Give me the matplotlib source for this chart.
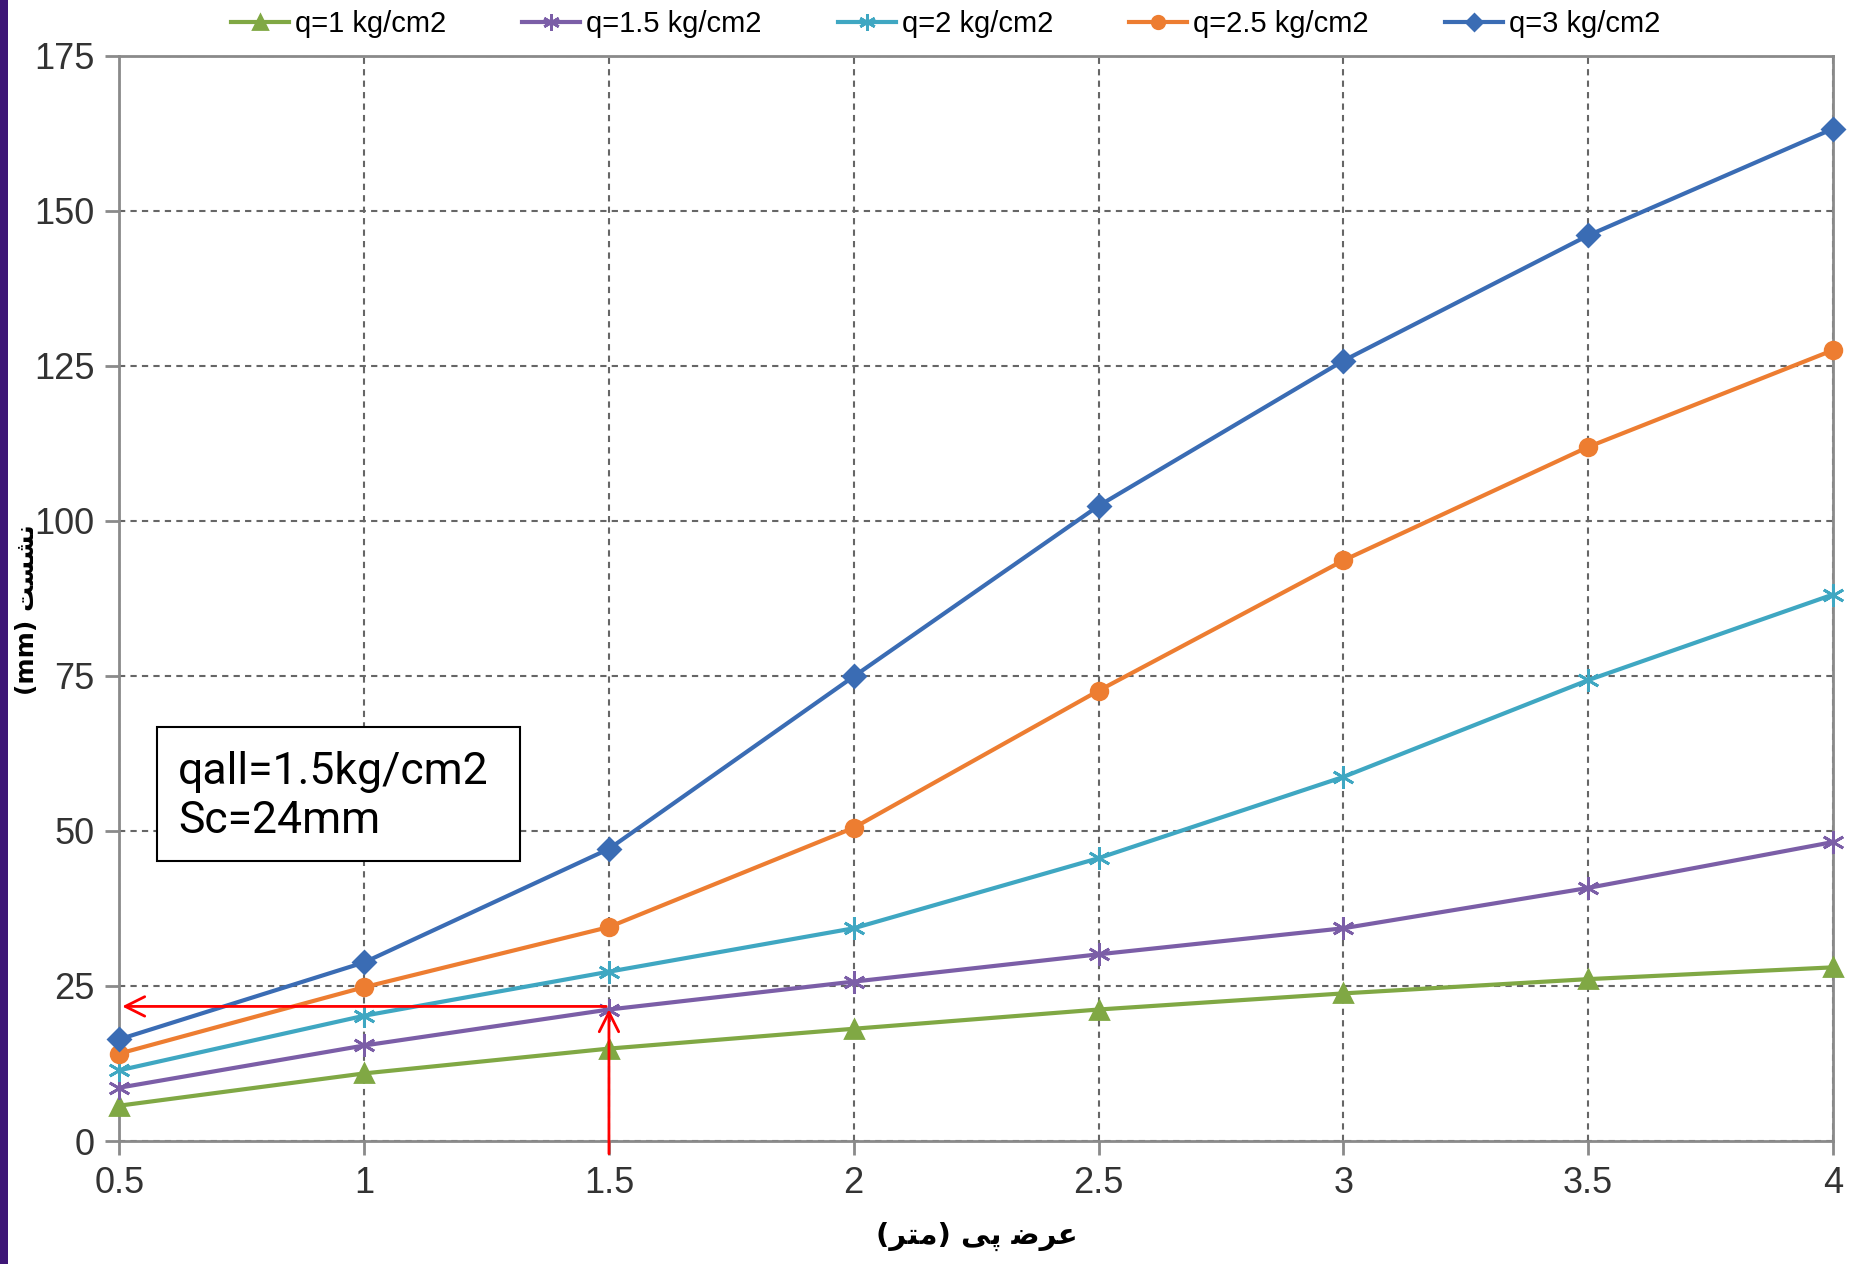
import matplotlib
matplotlib.use('Agg')
import matplotlib.pyplot as plt
from matplotlib.patches import Rectangle
import numpy as np

# footing width (m)
width = [0.5, 1, 1.5, 2, 2.5, 3, 3.5, 4]

# settlement (mm) per allowable pressure
q1 = [5.7, 10.9, 14.9, 18.1, 21.2, 23.8, 26.1, 28.0]
q15 = [8.6, 15.4, 21.2, 25.7, 30.1, 34.3, 40.8, 48.2]
q2 = [11.4, 20.2, 27.3, 34.3, 45.6, 58.7, 74.3, 88.1]
q25 = [14.1, 24.8, 34.5, 50.5, 72.6, 93.6, 111.9, 127.5]
q3 = [16.4, 28.8, 47.1, 74.9, 102.4, 125.8, 146.0, 163.2]

labels = ['q=1 kg/cm2', 'q=1.5 kg/cm2', 'q=2 kg/cm2', 'q=2.5 kg/cm2', 'q=3 kg/cm2']
colors = ['#80a844', '#7b5ea7', '#3fa7c2', '#ed7d31', '#3a6cb4']
markers = ['^', (6, 2, 0), (6, 2, 0), 'o', 'D']
msizes = [13, 16, 16, 12, 11]

# read-off point for qall = 1.5
x_read = 1.5
y_read = 21.7

# persian labels, pre-shaped (presentation forms, visual order)
xlabel_fa = '(\uFEAE\uFE98\uFEE3) \uFBFD\uFB58 \uFEBF\uFEAE\uFECB'
ylabel_fa = '(mm) \uFE96\uFEB4\uFEB8\uFEE7'

plt.rcParams['font.family'] = ['Liberation Sans', 'DejaVu Sans']

fig = plt.figure(figsize=(18.54, 12.64), dpi=100)
ax = fig.add_axes([0.0644, 0.0973, 0.9242, 0.8587])

series = [q1, q15, q2, q25, q3]
for vals, lab, c, m, ms in zip(series, labels, colors, markers, msizes):
    ax.plot(width, vals, color=c, lw=3, marker=m, markersize=ms,
            markeredgewidth=2, label=lab, clip_on=False, zorder=3)

ax.set_xlim(0.5, 4)
ax.set_ylim(0, 175)
ax.set_xticks(width)
ax.set_xticklabels(['0.5', '1', '1.5', '2', '2.5', '3', '3.5', '4'])
ax.set_yticks(np.arange(0, 176, 25))

ax.grid(True, color='#666666', linestyle=(0, (3, 2.5)), linewidth=1.5)
for s in ax.spines.values():
    s.set_color('#8a8a8a')
    s.set_linewidth(2)
ax.tick_params(axis='both', labelsize=26, colors='#8a8a8a', labelcolor='#333333',
               length=10, width=2, direction='out', pad=8)

# red read-off arrows
ax.annotate('', xy=(0.5, y_read), xytext=(x_read, y_read),
            arrowprops=dict(arrowstyle='->', color='red', lw=2, mutation_scale=35),
            annotation_clip=False, zorder=5)
ax.annotate('', xy=(x_read, y_read), xytext=(x_read, -2.5),
            arrowprops=dict(arrowstyle='->', color='red', lw=2, mutation_scale=35),
            annotation_clip=False, zorder=5)

# note box
ax.add_patch(Rectangle((0.577, 45.1), 0.742, 21.6, facecolor='white',
                       edgecolor='black', lw=1.5, zorder=4))
ax.text(0.62, 55.5, 'qall=1.5kg/cm2\nSc=24mm', fontsize=32, family='Roboto',
        va='center', ha='left', linespacing=1.2, zorder=5)

fig.text(0.527, 0.022, xlabel_fa, ha='center', va='center', fontsize=21,
         fontweight='bold', family=['DejaVu Sans'])
fig.text(0.0145, 0.518, ylabel_fa, ha='center', va='center', rotation=90,
         fontsize=18, fontweight='bold', family=['DejaVu Sans'])

fig.legend(loc='center', bbox_to_anchor=(0.51, 0.981), ncol=5, frameon=False,
           fontsize=21, handlelength=2.0, handletextpad=0.2, columnspacing=2.6,
           markerscale=0.75)

# purple strip on the left edge
fig.add_artist(Rectangle((0, 0), 0.0045, 1, transform=fig.transFigure,
                         facecolor='#3e1677', edgecolor='none'))

fig.savefig('out.png', dpi=100, facecolor='white')
